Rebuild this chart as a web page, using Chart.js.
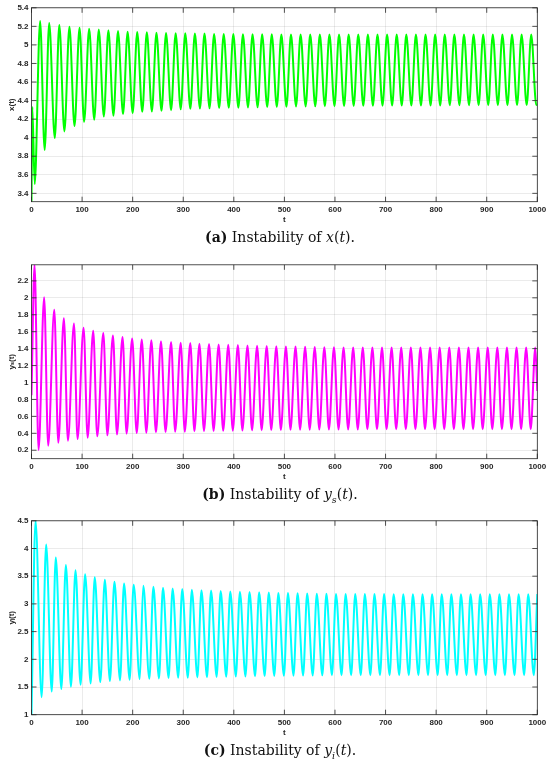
<!DOCTYPE html>
<html>
<head>
<meta charset="utf-8">
<script src="https://cdn.jsdelivr.net/npm/chart.js@4.4.1/dist/chart.umd.min.js"></script>
<style>
  html, body { margin: 0; padding: 0; background: #fff; }
  body { width: 550px; height: 764px; position: relative; overflow: hidden; }
  .panel { position: absolute; left: 0; width: 550px; height: 230px; }
  .caption { position: absolute; left: 5px; width: 550px; text-align: center;
             font-family: "DejaVu Serif", "Liberation Serif", serif; font-size: 14px;
             line-height: 16px; color: #111; }
  .caption sub { font-size: 9.5px; }
</style>
</head>
<body>
<div class="panel" style="top:0px"><canvas id="chartA" width="550" height="230"></canvas></div>
<div class="caption" style="top:229px"><b>(a)</b> Instability of <i>x</i>(<i>t</i>).</div>
<div class="panel" style="top:256.5px"><canvas id="chartB" width="550" height="230"></canvas></div>
<div class="caption" style="top:485.5px"><b>(b)</b> Instability of <i>y<sub>s</sub></i>(<i>t</i>).</div>
<div class="panel" style="top:513px"><canvas id="chartC" width="550" height="230"></canvas></div>
<div class="caption" style="top:742px"><b>(c)</b> Instability of <i>y<sub>i</sub></i>(<i>t</i>).</div>
<script>
// tick labels
var tTicks = [0, 100, 200, 300, 400, 500, 600, 700, 800, 900, 1000];
var xTicksY = [3.4, 3.6, 3.8, 4, 4.2, 4.4, 4.6, 4.8, 5, 5.2, 5.4];
var ysTicksY = [0.2, 0.4, 0.6, 0.8, 1, 1.2, 1.4, 1.6, 1.8, 2, 2.2];
var yiTicksY = [1, 1.5, 2, 2.5, 3, 3.5, 4, 4.5];

// x(t): start, peaks, troughs, end
var xStartT = [0, 1.6, 6.3];
var xStartV = [3.31, 4.33, 3.50];
var xPeakT = [17, 35, 55, 75, 95, 114, 133, 152, 171, 190, 209, 228, 247, 266, 285, 304, 323, 342, 361, 380,
  399, 418, 437, 456, 475, 494, 513, 532, 551, 570, 589, 608, 627, 646, 665, 684, 703, 722, 741, 760,
  779, 798, 817, 836, 855, 874, 893, 912, 931, 950, 969, 988];
var xPeakV = [5.257, 5.236, 5.215, 5.197, 5.186, 5.175, 5.165, 5.157, 5.150, 5.143, 5.140, 5.136, 5.132, 5.129,
  5.125, 5.125, 5.122, 5.122, 5.118, 5.118, 5.118, 5.115, 5.115, 5.115, 5.114, 5.113, 5.113, 5.113, 5.112, 5.112,
  5.112, 5.112, 5.112, 5.112, 5.112, 5.112, 5.112, 5.112, 5.112, 5.112, 5.112, 5.112, 5.112, 5.112, 5.112, 5.112,
  5.112, 5.112, 5.112, 5.112, 5.112, 5.112];
var xTroughT = [26, 46, 65, 85, 104, 124, 143, 162, 181, 200, 219, 238, 257, 276, 295, 314, 333, 352, 371, 390,
  409, 428, 447, 466, 485, 504, 523, 542, 561, 580, 599, 618, 637, 656, 675, 694, 713, 732, 751, 770,
  789, 808, 827, 846, 865, 884, 903, 922, 941, 960, 979, 998];
var xTroughV = [3.868, 3.996, 4.068, 4.125, 4.171, 4.193, 4.229, 4.236, 4.254, 4.264, 4.279, 4.282, 4.289, 4.296,
  4.307, 4.311, 4.314, 4.317, 4.320, 4.322, 4.324, 4.326, 4.328, 4.330, 4.332, 4.334, 4.336, 4.337, 4.338, 4.339,
  4.340, 4.341, 4.342, 4.343, 4.344, 4.345, 4.346, 4.346, 4.347, 4.347, 4.348, 4.348, 4.349, 4.349, 4.349, 4.350,
  4.350, 4.350, 4.350, 4.351, 4.351, 4.351];
var xEndT = [1000];
var xEndV = [4.36];

// y_s(t)
var ysStartT = [0];
var ysStartV = [0.85];
var ysPeakT = [6, 25, 45, 64, 84, 103, 122, 142, 161, 180, 199, 218, 237, 256, 276, 295, 314, 332, 351, 370,
  389, 408, 427, 446, 465, 484, 503, 522, 541, 560, 579, 598, 617, 636, 655, 674, 693, 712, 731, 750,
  769, 788, 807, 826, 845, 864, 883, 902, 921, 940, 959, 978, 996];
var ysPeakV = [2.39, 2.007, 1.859, 1.760, 1.698, 1.647, 1.612, 1.584, 1.556, 1.537, 1.521, 1.509, 1.498, 1.486,
  1.478, 1.470, 1.466, 1.459, 1.455, 1.450, 1.446, 1.442, 1.438, 1.435, 1.432, 1.429, 1.426, 1.424, 1.421, 1.419,
  1.417, 1.415, 1.414, 1.413, 1.413, 1.413, 1.413, 1.413, 1.412, 1.412, 1.412, 1.412, 1.412, 1.412, 1.412, 1.412,
  1.412, 1.412, 1.412, 1.412, 1.412, 1.412, 1.412];
var ysTroughT = [14, 33, 53, 72, 91, 111, 130, 150, 169, 188, 208, 227, 246, 265, 284, 303, 322, 341, 360, 379,
  398, 417, 436, 455, 474, 493, 512, 531, 550, 569, 588, 607, 626, 645, 664, 683, 702, 721, 740, 759,
  778, 797, 816, 835, 854, 873, 892, 911, 930, 949, 968, 987];
var ysTroughV = [0.204, 0.254, 0.289, 0.313, 0.333, 0.348, 0.364, 0.376, 0.388, 0.396, 0.404, 0.407, 0.411, 0.415,
  0.419, 0.419, 0.423, 0.425, 0.427, 0.429, 0.431, 0.433, 0.435, 0.437, 0.438, 0.440, 0.441, 0.442, 0.443, 0.444,
  0.445, 0.446, 0.446, 0.446, 0.447, 0.447, 0.447, 0.447, 0.447, 0.447, 0.447, 0.447, 0.447, 0.447, 0.447, 0.447,
  0.447, 0.447, 0.447, 0.447, 0.447, 0.447];
var ysEndT = [1000];
var ysEndV = [0.9];

// y_i(t)
var yiStartT = [0];
var yiStartV = [1.0];
var yiPeakT = [8, 29, 48, 68, 87, 106, 125, 145, 164, 183, 202, 221, 241, 260, 279, 298, 317, 336, 355, 374,
  393, 412, 431, 450, 469, 488, 507, 526, 545, 564, 583, 602, 621, 640, 659, 678, 697, 716, 735, 754,
  773, 792, 811, 830, 849, 868, 887, 906, 925, 944, 963, 982, 1000];
var yiPeakV = [4.50, 4.071, 3.839, 3.702, 3.607, 3.536, 3.482, 3.434, 3.399, 3.369, 3.345, 3.327, 3.310, 3.292,
  3.280, 3.268, 3.256, 3.248, 3.240, 3.233, 3.226, 3.220, 3.214, 3.209, 3.204, 3.199, 3.195, 3.191, 3.188, 3.185,
  3.182, 3.180, 3.179, 3.178, 3.178, 3.177, 3.177, 3.176, 3.176, 3.176, 3.176, 3.176, 3.176, 3.176, 3.176, 3.176,
  3.176, 3.176, 3.176, 3.176, 3.176, 3.176, 3.176];
var yiTroughT = [20, 40, 59, 78, 97, 117, 136, 155, 175, 194, 214, 233, 252, 271, 290, 309, 328, 347, 366, 385,
  404, 423, 442, 461, 480, 499, 518, 537, 556, 575, 594, 613, 632, 651, 670, 689, 708, 727, 746, 765,
  784, 803, 822, 841, 860, 879, 898, 917, 936, 955, 974, 993];
var yiTroughV = [1.316, 1.417, 1.464, 1.506, 1.542, 1.565, 1.589, 1.607, 1.619, 1.631, 1.643, 1.649, 1.655, 1.661,
  1.667, 1.667, 1.673, 1.677, 1.681, 1.685, 1.688, 1.691, 1.694, 1.697, 1.700, 1.702, 1.704, 1.706, 1.708, 1.710,
  1.712, 1.713, 1.714, 1.714, 1.714, 1.714, 1.714, 1.714, 1.714, 1.714, 1.714, 1.714, 1.714, 1.714, 1.714, 1.714,
  1.714, 1.714, 1.714, 1.714, 1.714, 1.714];
var yiEndT = [];
var yiEndV = [];

Chart.defaults.font.family = '"Liberation Sans", "DejaVu Sans", sans-serif';
Chart.defaults.color = '#262626';

// join the pieces into one time-ordered point list
function joinPoints(parts) {
  var pts = [];
  parts.forEach(function (p) {
    for (var i = 0; i < p[0].length; i++) pts.push({ x: p[0][i], y: p[1][i] });
  });
  pts.sort(function (a, b) { return a.x - b.x; });
  return pts;
}

// box round the plot plus inward tick marks (matlab style)
var framePlugin = {
  id: 'frame',
  afterDraw: function (chart) {
    var ctx = chart.ctx, a = chart.chartArea, sx = chart.scales.x, sy = chart.scales.y;
    ctx.save();
    ctx.strokeStyle = '#262626';
    ctx.lineWidth = 0.8;
    ctx.beginPath();
    sx.ticks.forEach(function (t) {
      var px = sx.getPixelForValue(t.value);
      ctx.moveTo(px, a.bottom); ctx.lineTo(px, a.bottom - 5);
      ctx.moveTo(px, a.top); ctx.lineTo(px, a.top + 5);
    });
    sy.ticks.forEach(function (t) {
      var py = sy.getPixelForValue(t.value);
      ctx.moveTo(a.left, py); ctx.lineTo(a.left + 5, py);
      ctx.moveTo(a.right, py); ctx.lineTo(a.right - 5, py);
    });
    ctx.stroke();
    ctx.strokeRect(a.left, a.top, a.right - a.left, a.bottom - a.top);
    ctx.restore();
  }
};

function makeChart(id, points, color, yTicks, yMin, yMax, yTitle) {
  var ctx = document.getElementById(id).getContext('2d');
  return new Chart(ctx, {
    type: 'line',
    data: {
      datasets: [{
        data: points,
        borderColor: color,
        borderWidth: 2,
        pointRadius: 0,
        fill: false,
        cubicInterpolationMode: 'monotone'
      }]
    },
    plugins: [framePlugin],
    options: {
      responsive: false,
      animation: false,
      layout: { padding: { top: 6.7, right: 12.7, left: 0, bottom: 0 } },
      plugins: { legend: { display: false }, tooltip: { enabled: false } },
      scales: {
        x: {
          type: 'linear',
          min: 0,
          max: 1000,
          afterBuildTicks: function (axis) { axis.ticks = tTicks.map(function (v) { return { value: v }; }); },
          afterFit: function (axis) { axis.height = 28.3; },
          grid: { color: 'rgba(38,38,38,0.12)', lineWidth: 0.8, drawTicks: false },
          border: { display: false },
          ticks: {
            padding: 3,
            maxRotation: 0,
            font: { size: 8, weight: 'bold' },
            callback: function (v) { return String(v); }
          },
          title: { display: true, text: 't', font: { size: 8, weight: 'bold' }, padding: { top: 0, bottom: 5.5 } }
        },
        y: {
          min: yMin,
          max: yMax,
          afterBuildTicks: function (axis) { axis.ticks = yTicks.map(function (v) { return { value: v }; }); },
          afterFit: function (axis) { axis.width = 31.5; },
          grid: { color: 'rgba(38,38,38,0.12)', lineWidth: 0.8, drawTicks: false },
          border: { display: false },
          ticks: {
            padding: 3,
            font: { size: 8, weight: 'bold' },
            callback: function (v) { return String(v); }
          },
          title: { display: true, text: yTitle, font: { size: 8, weight: 'bold' }, padding: { top: 6.8, bottom: 0 } }
        }
      }
    }
  });
}

makeChart('chartA',
  joinPoints([[xStartT, xStartV], [xPeakT, xPeakV], [xTroughT, xTroughV], [xEndT, xEndV]]),
  '#00ff00', xTicksY, 3.31, 5.4, 'x(t)');
makeChart('chartB',
  joinPoints([[ysStartT, ysStartV], [ysPeakT, ysPeakV], [ysTroughT, ysTroughV], [ysEndT, ysEndV]]),
  '#ff00ff', ysTicksY, 0.1, 2.39, 'y\u209B(t)');
makeChart('chartC',
  joinPoints([[yiStartT, yiStartV], [yiPeakT, yiPeakV], [yiTroughT, yiTroughV], [yiEndT, yiEndV]]),
  '#00ffff', yiTicksY, 1, 4.5, 'y\u1D62(t)');
</script>
</body>
</html>
